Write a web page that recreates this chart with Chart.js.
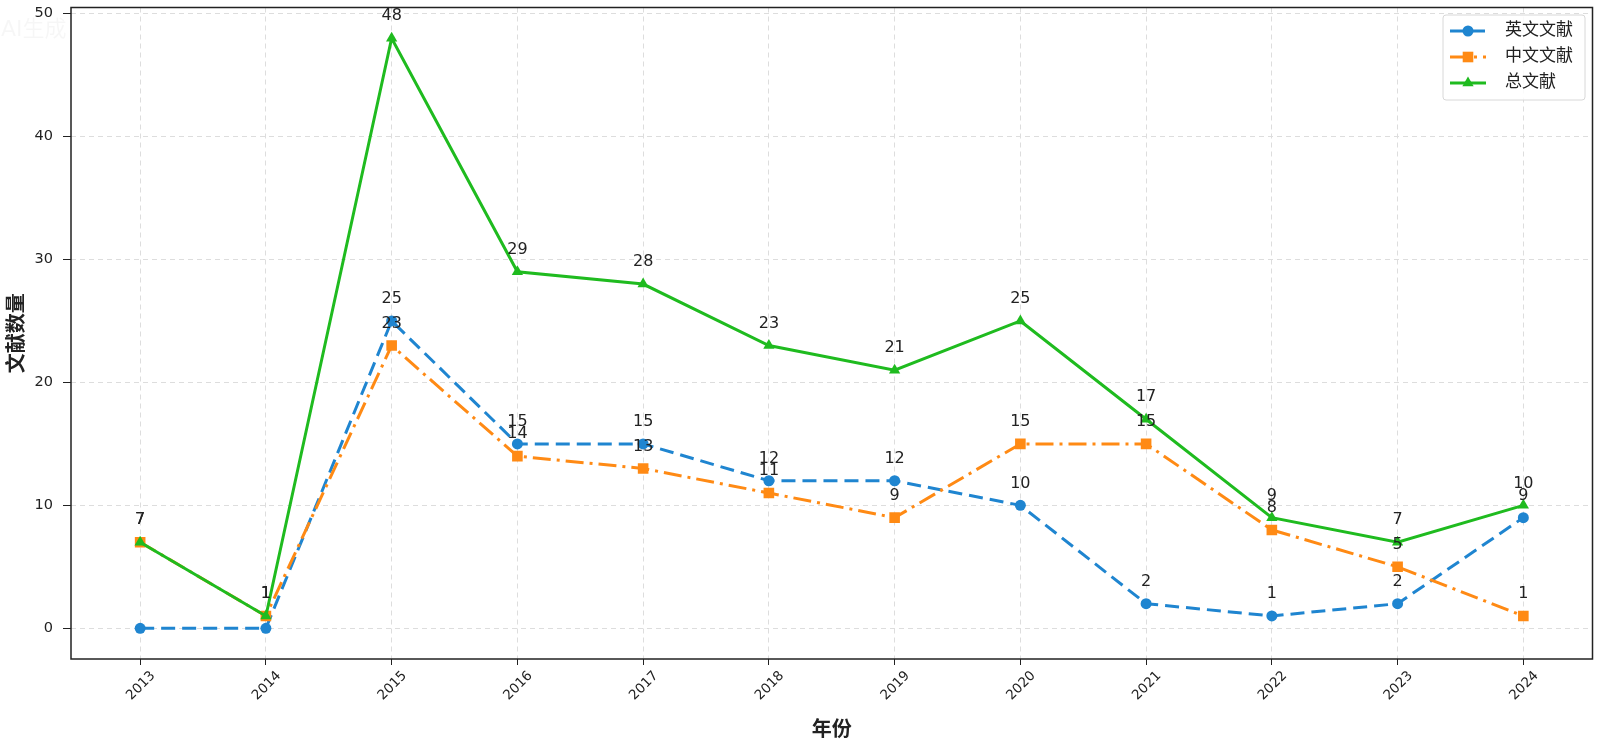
<!DOCTYPE html>
<html>
<head>
<meta charset="utf-8">
<script src="https://cdn.jsdelivr.net/npm/chart.js@4.4.0/dist/chart.umd.min.js"></script>
<style>
  html, body { margin: 0; padding: 0; background: #fff; }
  #chart { display: block; }
</style>
</head>
<body>
<canvas id="chart" width="1600" height="740"></canvas>
<script>
const years = [2013, 2014, 2015, 2016, 2017, 2018, 2019, 2020, 2021, 2022, 2023, 2024];
const englishCounts = [0, 0, 25, 15, 15, 12, 12, 10, 2, 1, 2, 9];
const chineseCounts = [7, 1, 23, 14, 13, 11, 9, 15, 15, 8, 5, 1];
const totalCounts = [7, 1, 48, 29, 28, 23, 21, 25, 17, 9, 7, 10];
const yTicks = [0, 10, 20, 30, 40, 50];

const FONT = '"DejaVu Sans", "Noto Sans CJK SC", sans-serif';
const BLUE = '#1f85d0';
const ORANGE = '#ff8a14';
const GREEN = '#1fbb1f';

function puntos(valores) {
  return years.map((y, i) => ({ x: y, y: valores[i] }));
}

// white background + faint watermark
const fondo = {
  id: 'fondo',
  beforeDraw(chart) {
    const ctx = chart.ctx;
    ctx.save();
    ctx.fillStyle = '#fff';
    ctx.fillRect(0, 0, chart.width, chart.height);
    ctx.fillStyle = 'rgba(0,0,0,0.035)';
    ctx.font = '22px ' + FONT;
    ctx.textBaseline = 'middle';
    ctx.fillText('AI生成', 1, 30);
    ctx.restore();
  }
};

// black frame round the plot area
const marco = {
  id: 'marco',
  afterDatasetsDraw(chart) {
    const a = chart.chartArea;
    const ctx = chart.ctx;
    ctx.save();
    ctx.strokeStyle = '#222';
    ctx.lineWidth = 1.5;
    ctx.strokeRect(a.left, a.top, a.right - a.left, a.bottom - a.top);
    ctx.restore();
  }
};

// value labels above each point (zeros skipped)
const etiquetas = {
  id: 'etiquetas',
  afterDatasetsDraw(chart) {
    const ctx = chart.ctx;
    ctx.save();
    ctx.font = '16px ' + FONT;
    ctx.fillStyle = '#222';
    ctx.textAlign = 'center';
    ctx.textBaseline = 'middle';
    chart.data.datasets.forEach((ds, i) => {
      const meta = chart.getDatasetMeta(i);
      meta.data.forEach((pt, j) => {
        const v = ds.data[j].y;
        if (v > 0) ctx.fillText(String(v), pt.x, pt.y - 22);
      });
    });
    ctx.restore();
  }
};

// legend box: line sample with marker, like matplotlib
const leyenda = {
  id: 'leyenda',
  afterDraw(chart) {
    const ctx = chart.ctx;
    const x0 = 1443, y0 = 15, w = 142, h = 85;
    ctx.save();
    ctx.fillStyle = 'rgba(255,255,255,0.85)';
    ctx.strokeStyle = '#d8d8d8';
    ctx.lineWidth = 1;
    ctx.beginPath();
    ctx.roundRect(x0, y0, w, h, 3);
    ctx.fill();
    ctx.stroke();
    chart.data.datasets.forEach((ds, i) => {
      const y = y0 + 16 + i * 26;
      ctx.strokeStyle = ds.borderColor;
      ctx.lineWidth = 3;
      ctx.setLineDash(ds.borderDash || []);
      ctx.beginPath();
      ctx.moveTo(x0 + 7, y);
      ctx.lineTo(x0 + 43, y);
      ctx.stroke();
      ctx.setLineDash([]);
      ctx.fillStyle = ds.borderColor;
      Chart.helpers.drawPoint(ctx, {
        pointStyle: ds.pointStyle, radius: ds.pointRadius, borderWidth: 0
      }, x0 + 25, y);
      ctx.fillStyle = '#222';
      ctx.font = '17px ' + FONT;
      ctx.textBaseline = 'middle';
      ctx.fillText(ds.label, x0 + 62, y);
    });
    ctx.restore();
  }
};

const ctx = document.getElementById('chart').getContext('2d');

new Chart(ctx, {
  type: 'line',
  data: {
    datasets: [
      {
        label: '英文文献',
        data: puntos(englishCounts),
        borderColor: BLUE,
        backgroundColor: BLUE,
        borderWidth: 3,
        borderDash: [14, 7],
        pointStyle: 'circle',
        pointRadius: 5.5,
        pointBorderWidth: 0,
        order: 3
      },
      {
        label: '中文文献',
        data: puntos(chineseCounts),
        borderColor: ORANGE,
        backgroundColor: ORANGE,
        borderWidth: 3,
        borderDash: [18, 6, 3, 6],
        pointStyle: 'rect',
        pointRadius: 7.5,
        pointBorderWidth: 0,
        order: 2
      },
      {
        label: '总文献',
        data: puntos(totalCounts),
        borderColor: GREEN,
        backgroundColor: GREEN,
        borderWidth: 3,
        pointStyle: 'triangle',
        pointRadius: 6.5,
        pointBorderWidth: 0,
        order: 1
      }
    ]
  },
  options: {
    responsive: false,
    animation: false,
    devicePixelRatio: 1,
    layout: { padding: { top: 6, right: 5, left: 0, bottom: 0 } },
    plugins: {
      legend: { display: false },
      tooltip: { enabled: false }
    },
    scales: {
      x: {
        type: 'linear',
        min: 2012.45,
        max: 2024.55,
        afterFit: s => {
          s.height = 81;
          s.paddingLeft = 0; s.paddingRight = 0;
        },
        afterBuildTicks: s => { s.ticks = years.map(v => ({ value: v })); },
        grid: {
          color: '#dddddd',
          tickColor: '#222',
          tickBorderDash: [],
          tickLength: 6
        },
        border: { display: false, dash: [5, 4] },
        ticks: {
          minRotation: 45,
          maxRotation: 45,
          labelOffset: 13,
          padding: 3,
          color: '#222',
          font: { family: FONT, size: 13.5 },
          callback: v => String(v)
        },
        title: {
          display: true,
          text: '年份',
          color: '#222',
          font: { family: FONT, size: 20, weight: 'bold' },
          padding: { top: 0, bottom: -3 }
        }
      },
      y: {
        min: -2.5,
        max: 50.5,
        afterFit: s => {
          s.width = 71;
          s.paddingTop = 0; s.paddingBottom = 0;
        },
        afterBuildTicks: s => { s.ticks = yTicks.map(v => ({ value: v })); },
        grid: {
          color: '#dddddd',
          tickColor: '#222',
          tickBorderDash: [],
          tickLength: 8
        },
        border: { display: false, dash: [5, 4] },
        ticks: {
          padding: 10,
          color: '#222',
          font: { family: FONT, size: 14.5 }
        },
        title: {
          display: true,
          text: '文献数量',
          color: '#222',
          font: { family: FONT, size: 20, weight: 'bold' },
          padding: { top: 6, bottom: 0 }
        }
      }
    }
  },
  plugins: [fondo, etiquetas, marco, leyenda]
});
</script>
</body>
</html>
